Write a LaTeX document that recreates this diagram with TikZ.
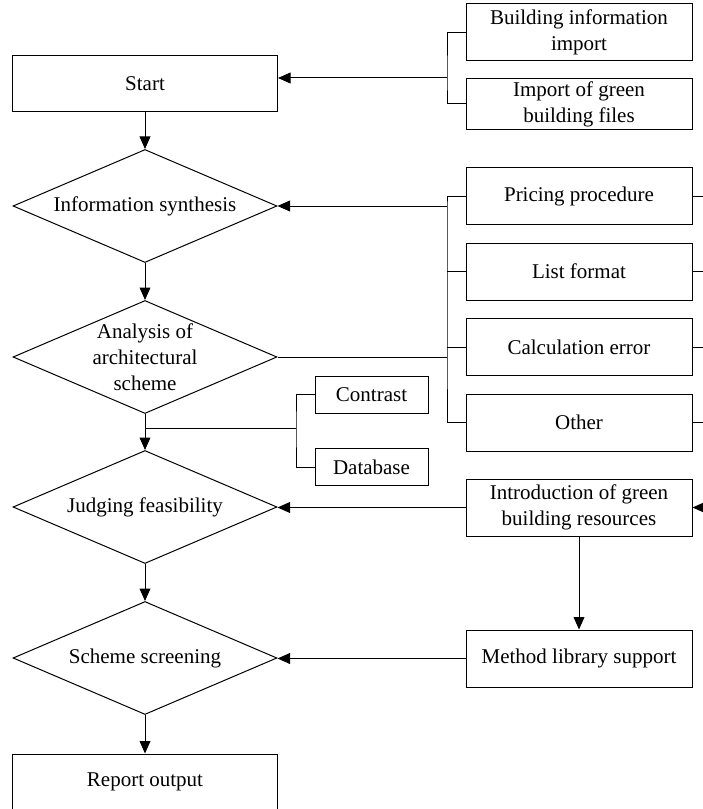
\documentclass[tikz,border=0pt]{standalone}
\usepackage{fontspec}
\setmainfont{Liberation Serif}
\usetikzlibrary{shapes.geometric,arrows.meta}
\begin{document}
\begin{tikzpicture}[x=0.6pt,y=-0.6pt,line width=0.6pt,>={Triangle[length=7.5pt,width=6.5pt]},
every node/.style={draw,font=\fontsize{12.6}{15.6}\selectfont,align=center,inner sep=0pt},
procbox/.style={minimum width=159pt,minimum height=33.6pt},
sidebox/.style={minimum width=135.6pt,minimum height=34.2pt},
smallbox/.style={minimum width=67.8pt,minimum height=22.2pt},
decision/.style={diamond,aspect=2.34,inner ysep=-2pt,minimum width=158.4pt,minimum height=67.8pt}]
\useasboundingbox (0,0) rectangle (702,809);
% main flow
\node[procbox] (start) at (145,84) {Start};
\node[decision] (info) at (145,206) {Information synthesis};
\node[decision] (anal) at (145,357) {Analysis of\\architectural\\scheme};
\node[decision] (judge) at (145,507) {Judging feasibility};
\node[decision] (screen) at (145,658) {Scheme screening};
\node[procbox] (report) at (145,782) {Report output};
\draw[->] (start)--(info);\draw[->] (info)--(anal);\draw[->] (anal)--(judge);
\draw[->] (judge)--(screen);\draw[->] (screen)--(report);
% right column
\node[sidebox] (bimp) at (579,32.5) {Building information\\import};
\node[sidebox,minimum height=30pt] (gimp) at (579,104) {Import of green\\building files};
\foreach \n/\y/\t in {price/196/Pricing procedure,list/271.5/List format,calc/347/Calculation error,other/422.5/Other}{\node[sidebox] (\n) at (579,\y) {\t};}
\node[sidebox] (intro) at (579,507.5) {Introduction of green\\building resources};
\node[sidebox] (meth) at (579,658.5) {Method library support};
\node[smallbox] (contr) at (371.5,394.5) {Contrast};
\node[smallbox] (dbase) at (371.5,467) {Database};
% brackets
\coordinate (tb) at (447,78);
\draw (bimp.west) -| (tb) |- (gimp.west);\draw[->] (tb)--(tb -| start.east);
\coordinate (mb) at (447,206);\coordinate (mb2) at (447,357);
\draw (price.west) -| (mb)--(mb2) |- (other.west);
\foreach \n in {list,calc}{\draw (\n.west)--(\n.west -| mb);}
\draw[->] (mb)--(info.east);\draw (mb2)--(anal.east);
\coordinate (cj) at (145,428);\coordinate (cv) at (296,428);
\draw (cj)--(cv);\draw (contr.west) -| (cv) |- (dbase.west);
% feedback
\draw[->] (intro.west)--(intro.west -| judge.east);
\draw[->] (intro)--(meth);
\draw[->] (meth.west)--(meth.west -| screen.east);
\foreach \n in {price,list,calc,other}{\draw (\n.east)--++(14,0);}
\coordinate (ri) at (710,507.5);\draw[->] (ri)--(intro.east);
\end{tikzpicture}
\end{document}
